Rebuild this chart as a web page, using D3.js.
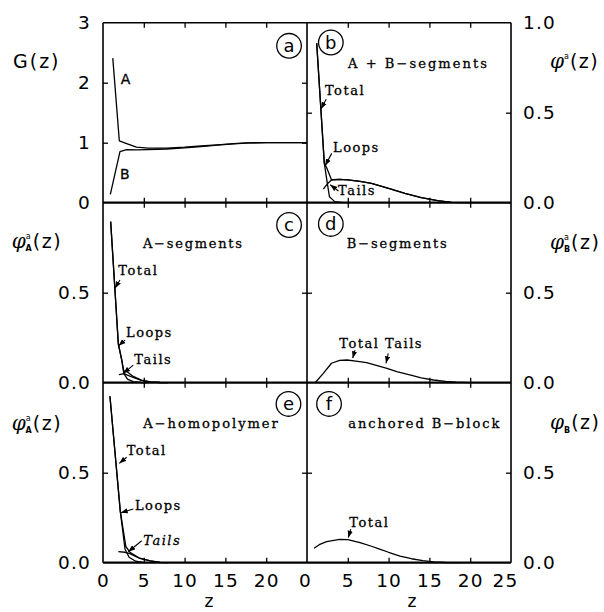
<!DOCTYPE html>
<html><head><meta charset="utf-8">
<script src="https://cdn.jsdelivr.net/npm/d3@7"></script>
<style>body{margin:0;background:#fff}</style>
</head><body>
<svg id="c" width="604" height="612"></svg>
<script>
// ---------- data ----------
const zTicksL = [0, 5, 10, 15, 20];
const zTicksR = [0, 5, 10, 15, 20, 25];
const gTickLabels = [0, 1, 2, 3];
const phiTickLabelsTop = [0.0, 0.5, 1.0];
const phiTickLabels = [0.0, 0.5];

// panel a : G(z)
const gA = [[1.2,2.41],[2.0,1.03],[2.9,0.985],[4.1,0.925],[5.5,0.91],[7.8,0.91],[10,0.925],[12,0.945],[14,0.965],[16,0.985],[17.6,0.998],[20,1.0],[25,1.0]];
const gB = [[0.9,0.14],[2.08,0.85],[2.9,0.885],[4.1,0.88],[5.5,0.885],[7.8,0.895],[10,0.915],[12,0.935],[14,0.958],[16,0.98],[18,0.997],[20,1.0],[25,1.0]];
// panel b : A + B segments
const bTotal = [[1.19,0.886],[2.12,0.22],[2.4,0.195],[3.0,0.128],[4,0.13],[5,0.127],[6.5,0.118],[7.9,0.107],[10,0.08],[12,0.052],[14,0.028],[16,0.011],[17.7,0.002],[20,0],[25,0]];
const bLoops = [[1.19,0.886],[2.12,0.22],[2.45,0.12],[2.75,0.033],[3.4,0.006],[4.5,0]];
const bTails = [[2.0,0.075],[2.5,0.105],[3.0,0.126],[4,0.13],[5,0.127],[6.5,0.118],[7.9,0.107],[10,0.08],[12,0.052],[14,0.028],[16,0.011],[17.7,0.002],[20,0]];
// panel c : A-segments
const cTotal = [[0.94,0.895],[1.88,0.215],[2.3,0.125],[2.55,0.065],[3.0,0.06],[3.7,0.035],[4.7,0.014],[5.8,0.005],[7,0.001],[8,0]];
const cLoops = [[0.94,0.895],[1.88,0.215],[2.3,0.125],[2.55,0.05],[3.0,0.02],[3.7,0.006],[4.7,0.001],[5.5,0]];
const cTails = [[1.95,0.045],[2.6,0.05],[3.0,0.042],[3.7,0.029],[4.7,0.013],[5.8,0.005],[7,0.001],[8,0]];
// panel d : B-segments
const dTails = [[1.0,0],[2.0,0.052],[3.0,0.108],[4.0,0.124],[4.9,0.126],[6.0,0.12],[7.3,0.111],[8.5,0.096],[9.8,0.08],[11,0.062],[12.6,0.043],[14,0.027],[15.5,0.015],[17,0.007],[18.3,0.003],[20,0]];
// panel e : A-homopolymer
const eTotal = [[0.85,0.925],[2.12,0.285],[2.8,0.09],[3.3,0.058],[4.5,0.025],[5.8,0.01],[7,0.002],[8,0]];
const eLoops = [[0.85,0.925],[2.12,0.285],[2.7,0.075],[3.2,0.03],[4,0.008],[5,0]];
const eTails = [[1.88,0.061],[2.7,0.058],[3.3,0.05],[4.5,0.024],[5.8,0.01],[7,0.002],[8,0]];
// panel f : anchored B-block
const fTotal = [[0.87,0.08],[1.5,0.1],[2.4,0.117],[4.0,0.13],[5.0,0.128],[6.5,0.112],[8.0,0.09],[8.9,0.076],[10,0.058],[11.4,0.037],[12.8,0.022],[14.2,0.011],[15.5,0.005],[17,0.001],[19,0]];

// annotation texts
const panelLetters = ['a','b','c','d','e','f'];
const titles = ['', 'A + B\u2212segments', 'A\u2212segments', 'B\u2212segments', 'A\u2212homopolymer', 'anchored B\u2212block'];

// ---------- layout ----------
const L = 103, M = 307, R = 511, T0 = 22.7, PH = 180;
const svg = d3.select('#c');
const xL = d3.scaleLinear().domain([0,25]).range([L,M]);
const xR = d3.scaleLinear().domain([0,25]).range([M,R]);
const rowTop = i => T0 + i*PH;
const yG = d3.scaleLinear().domain([0,3]).range([T0+PH, T0]);
const yP = i => d3.scaleLinear().domain([0,1]).range([rowTop(i)+PH, rowTop(i)]);

const defs = svg.append('defs');
defs.append('marker').attr('id','ah').attr('viewBox','0 0 8 6').attr('refX',8).attr('refY',3)
  .attr('markerWidth',7).attr('markerHeight',5.5).attr('markerUnits','userSpaceOnUse').attr('orient','auto')
  .append('path').attr('d','M0,0 L8,3 L0,6 Z').attr('fill','#000');

const SERIF = "'DejaVu Serif', serif";
const SANS = "'DejaVu Sans', sans-serif";

const panels = [
  {x:xL, y:yG,    row:0, inner:[1,2],  series:[gA,gB],
   circle:[22.8,2.615],
   labels:[{t:'A',z:2.17,v:1.98,sans:true},{t:'B',z:2.08,v:0.395,sans:true}], arrows:[]},
  {x:xR, y:yP(0), row:0, inner:[0.5], series:[bTotal,bLoops,bTails],
   circle:[2.92,0.89], title:{z:5.02,v:0.748,w:139},
   labels:[{t:'Total',z:2.2,v:0.598},{t:'Loops',z:3.19,v:0.282},{t:'Tails',z:3.8,v:0.043}],
   arrows:[[[2.35,0.575],[1.72,0.52]],[[3.03,0.274],[2.22,0.205]],[[3.85,0.065],[2.85,0.1]]]},
  {x:xL, y:yP(1), row:1, inner:[0.5], series:[cTotal,cLoops,cTails],
   circle:[22.8,0.876], title:{z:4.9,v:0.75,w:99},
   labels:[{t:'Total',z:1.88,v:0.598},{t:'Loops',z:2.82,v:0.252},{t:'Tails',z:3.84,v:0.102}],
   arrows:[[[2.08,0.571],[1.47,0.525]],[[2.7,0.237],[1.9,0.205]],[[3.71,0.098],[2.49,0.052]]]},
  {x:xR, y:yP(1), row:1, inner:[0.5], series:[dTails],
   circle:[2.92,0.882], title:{z:4.87,v:0.747,w:100},
   labels:[{t:'Total Tails',z:3.96,v:0.194}],
   arrows:[[[5.88,0.181],[5.6,0.136]],[[9.96,0.163],[9.68,0.108]]]},
  {x:xL, y:yP(2), row:2, inner:[0.5], series:[eTotal,eLoops,eTails],
   circle:[22.73,0.882], title:{z:4.94,v:0.75,w:134.4},
   labels:[{t:'Total',z:2.9,v:0.598},{t:'Loops',z:3.92,v:0.293},{t:'Tails',z:4.94,v:0.098,italic:true}],
   arrows:[[[2.9,0.586],[2.0,0.552]],[[3.71,0.298],[2.17,0.278]],[[4.74,0.122],[3.1,0.061]]]},
  {x:xR, y:yP(2), row:2, inner:[0.5], series:[fTotal],
   circle:[2.7,0.882], title:{z:5.06,v:0.75,w:151},
   labels:[{t:'Total',z:5.18,v:0.2}],
   arrows:[[[5.36,0.186],[5.06,0.139]]]}
];

const line = (x,y) => d3.line().x(d=>x(d[0])).y(d=>y(d[1]));

panels.forEach((p,i) => {
  const g = svg.append('g');
  const top = rowTop(p.row), bot = top + PH;
  const x0 = p.x(0), x1 = p.x(25);
  const tk = (sel) => { sel.select('.domain').remove(); sel.selectAll('line').attr('stroke','#000').attr('stroke-width',1.3); };
  g.append('g').attr('transform',`translate(0,${bot})`).call(d3.axisBottom(p.x).tickValues([5,10,15,20]).tickSize(-5).tickFormat('')).call(tk);
  g.append('g').attr('transform',`translate(0,${top})`).call(d3.axisTop(p.x).tickValues([5,10,15,20]).tickSize(-5).tickFormat('')).call(tk);
  g.append('g').attr('transform',`translate(${x0},0)`).call(d3.axisLeft(p.y).tickValues(p.inner).tickSize(-5).tickFormat('')).call(tk);
  g.append('g').attr('transform',`translate(${x1},0)`).call(d3.axisRight(p.y).tickValues(p.inner).tickSize(-5).tickFormat('')).call(tk);
  p.series.forEach(s => {
    g.append('path').attr('d', line(p.x,p.y)(s)).attr('fill','none').attr('stroke','#000').attr('stroke-width',1.3).attr('stroke-linejoin','round');
  });
  const cx = p.x(p.circle[0]), cy = p.y(p.circle[1]);
  g.append('circle').attr('cx',cx).attr('cy',cy).attr('r',12.3).attr('fill','none').attr('stroke','#000').attr('stroke-width',1.3);
  g.append('text').attr('x',cx).attr('y',cy+6).attr('text-anchor','middle').attr('font-family',SANS).attr('font-size',18).text(panelLetters[i]);
  if (p.title) {
    g.append('text').attr('x',p.x(p.title.z)).attr('y',p.y(p.title.v)).attr('font-family',SERIF).attr('font-size',13)
      .attr('stroke','#000').attr('stroke-width',0.3)
      .attr('textLength',p.title.w).attr('lengthAdjust','spacing').text(titles[i]);
  }
  p.labels.forEach(l => {
    const t = g.append('text').attr('x',p.x(l.z)).attr('y',p.y(l.v)).attr('font-size', l.sans?14:13)
      .attr('font-family', l.sans?SANS:SERIF).attr('letter-spacing', l.sans?0:1.5)
      .attr('stroke','#000').attr('stroke-width',0.3).text(l.t);
    if (l.italic) t.attr('font-style','italic');
  });
  p.arrows.forEach(a => {
    g.append('line').attr('x1',p.x(a[0][0])).attr('y1',p.y(a[0][1])).attr('x2',p.x(a[1][0])).attr('y2',p.y(a[1][1]))
      .attr('stroke','#000').attr('stroke-width',1.1).attr('marker-end','url(#ah)');
  });
});

// frame
const fr = svg.append('g').attr('stroke','#000').attr('fill','none');
[L,M,R].forEach(xv => fr.append('line').attr('x1',xv).attr('x2',xv).attr('y1',T0).attr('y2',T0+3*PH).attr('stroke-width',1.6));
fr.append('line').attr('x1',L).attr('x2',R).attr('y1',T0).attr('y2',T0).attr('stroke-width',1.6);
[1,2,3].forEach(k => fr.append('line').attr('x1',L).attr('x2',R).attr('y1',rowTop(k)).attr('y2',rowTop(k)).attr('stroke-width',2.2));

// tick labels
const lab = sel => { sel.select('.domain').remove(); sel.selectAll('line').remove();
  sel.selectAll('text').attr('font-family',SANS).attr('font-size',18.5).attr('letter-spacing',1.2).attr('fill','#000'); };
svg.append('g').attr('transform',`translate(${L},0)`).call(d3.axisLeft(yG).tickValues(gTickLabels).tickSize(0).tickPadding(12).tickFormat(d3.format('d'))).call(lab);
[1,2].forEach(r => svg.append('g').attr('transform',`translate(${L},0)`).call(d3.axisLeft(yP(r)).tickValues(phiTickLabels).tickSize(0).tickPadding(12).tickFormat(d3.format('.1f'))).call(lab));
svg.append('g').attr('transform',`translate(${R},0)`).call(d3.axisRight(yP(0)).tickValues(phiTickLabelsTop).tickSize(0).tickPadding(12).tickFormat(d3.format('.1f'))).call(lab);
[1,2].forEach(r => svg.append('g').attr('transform',`translate(${R},0)`).call(d3.axisRight(yP(r)).tickValues(phiTickLabels).tickSize(0).tickPadding(12).tickFormat(d3.format('.1f'))).call(lab));
const bottom = T0 + 3*PH;
svg.append('g').attr('transform',`translate(0,${bottom})`).call(d3.axisBottom(xL).tickValues(zTicksL).tickSize(0).tickPadding(11).tickFormat(d3.format('d'))).call(lab);
const gxr = svg.append('g').attr('transform',`translate(0,${bottom})`).call(d3.axisBottom(xR).tickValues(zTicksR).tickSize(0).tickPadding(11).tickFormat(d3.format('d'))).call(lab);
gxr.selectAll('.tick').filter(d => d === 25).select('text').attr('dx',-6);
gxr.selectAll('.tick').filter(d => d === 0).select('text').attr('dx',-2);

// axis titles
svg.append('text').attr('x',13).attr('y',67.7).attr('font-family',SANS).attr('font-size',19).attr('letter-spacing',2).text('G(z)');
function symLabel(x, y, sub, sup) {
  const t = svg.append('text').attr('x',x).attr('y',y).attr('font-family',SANS).attr('font-size',19);
  t.append('tspan').attr('font-family',SERIF).attr('font-style','italic').attr('font-size',20).text('\u03C6');
  let net = 0;
  if (sup) { t.append('tspan').attr('font-size',8).attr('dy',-9).text(sup); net = -9; }
  if (sub) { const d = sup ? 12 : 4; t.append('tspan').attr('font-size',8).attr('font-weight','bold').attr('dx', sup ? -5 : 0).attr('dy', d).text(sub); net += d; }
  t.append('tspan').attr('dy', -net).attr('dx',1).attr('letter-spacing',1.5).text('(z)');
}
symLabel(550, 68, null, 'a');
symLabel(11.7, 247.7, 'A', 'a');
symLabel(550, 249.3, 'B', 'a');
symLabel(11.7, 430, 'A', 'a');
symLabel(550, 429.3, 'B', null);
svg.append('text').attr('x',209).attr('y',607).attr('text-anchor','middle').attr('font-family',SANS).attr('font-size',17).text('z');
svg.append('text').attr('x',412).attr('y',607).attr('text-anchor','middle').attr('font-family',SANS).attr('font-size',17).text('z');
</script>
</body></html>
